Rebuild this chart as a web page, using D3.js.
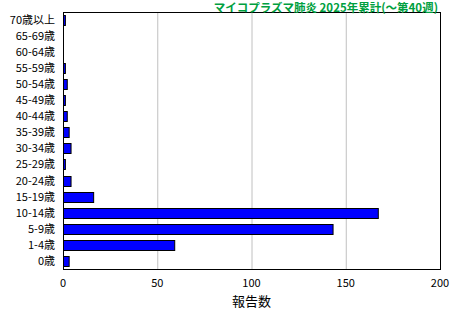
<!DOCTYPE html>
<html><head><meta charset="utf-8">
<script src="https://cdn.jsdelivr.net/npm/d3@7"></script>
<style>body{margin:0;background:#fff;} svg{display:block;}</style>
</head><body>
<svg id="c" width="460" height="320"></svg>
<script>
const categories = ["70歳以上","65-69歳","60-64歳","55-59歳","50-54歳","45-49歳","40-44歳","35-39歳","30-34歳","25-29歳","20-24歳","15-19歳","10-14歳","5-9歳","1-4歳","0歳"];
const values = [1,0,0,1,2,1,2,3,4,1,4,16,167,143,59,3];
const xTicks = [0,50,100,150,200];
const title = "マイコプラズマ肺炎 2025年累計(～第40週)";
const xLabel = "報告数";

const svg = d3.select("#c");
const m = {l:63, r:440, t:12, b:269};
const x = d3.scaleLinear().domain([0,200]).range([m.l, m.r]);
const y = d3.scaleBand().domain(categories).range([m.t, m.b]).paddingInner(0.36).paddingOuter(0.18);
const font = "'Noto Sans CJK JP', sans-serif";

// gridlines
svg.append("g").selectAll("line").data(xTicks.filter(d=>d>0&&d<200)).join("line")
  .attr("x1",d=>x(d)+0.5).attr("x2",d=>x(d)+0.5).attr("y1",m.t).attr("y2",m.b)
  .attr("stroke","#c0c0c0").attr("stroke-width",1);

// bars
svg.append("g").selectAll("rect").data(categories).join("rect")
  .attr("x", x(0)+0.5)
  .attr("y", d=>Math.round(y(d))+0.5)
  .attr("width", (d,i)=>Math.max(0, x(values[i])-x(0)))
  .attr("height", Math.round(y.bandwidth()))
  .attr("fill","#0000ff").attr("stroke","#000").attr("stroke-width",1)
  .style("display",(d,i)=>values[i]>0?null:"none");

// frame
svg.append("rect").attr("x",m.l+0.5).attr("y",m.t+0.5).attr("width",m.r-m.l).attr("height",m.b-m.t)
  .attr("fill","none").attr("stroke","#000").attr("stroke-width",1);

// y labels
svg.append("g").selectAll("text").data(categories).join("text")
  .attr("x",55).attr("y",d=>y(d)+y.bandwidth()/2).attr("dy","0.35em")
  .attr("text-anchor","end").attr("font-family",font).attr("font-size",11).attr("fill","#000")
  .text(d=>d);

// x tick labels
svg.append("g").selectAll("text").data(xTicks).join("text")
  .attr("x",d=>x(d)).attr("y",287).attr("text-anchor","middle")
  .attr("font-family",font).attr("font-size",11).attr("fill","#000").text(d=>d);

// x label
svg.append("text").attr("x",x(100)).attr("y",306).attr("text-anchor","middle")
  .attr("font-family",font).attr("font-size",13).attr("fill","#000").text(xLabel);

// title
svg.append("text").attr("x",438).attr("y",11.5).attr("text-anchor","end")
  .attr("font-family",font).attr("font-size",11.5).attr("font-weight","bold").attr("fill","#00a040").text(title);
</script>
</body></html>
